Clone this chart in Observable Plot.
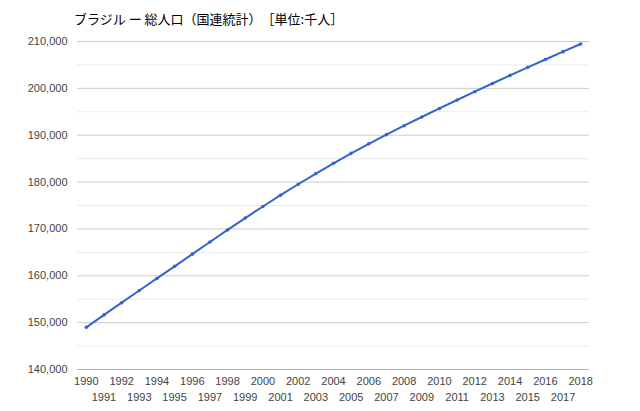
<!DOCTYPE html>
<html><head><meta charset="utf-8">
<script src="https://cdn.jsdelivr.net/npm/d3@7"></script>
<script src="https://cdn.jsdelivr.net/npm/@observablehq/plot@0.6"></script>
<style>
body{margin:0;background:#fff;font-family:"Liberation Sans",Arial,sans-serif;}
#title{height:30px;position:relative;}
#title span{position:absolute;left:74px;top:9px;font-family:"Noto Sans CJK JP","Liberation Sans",sans-serif;font-size:13px;color:#000;white-space:pre;}
</style></head>
<body>
<div id="title"><span>ブラジル ー 総人口（国連統計）　［単位:千人］</span></div>
<div id="chart"></div>
<script>
const years = [1990,1991,1992,1993,1994,1995,1996,1997,1998,1999,2000,2001,2002,2003,2004,2005,2006,2007,2008,2009,2010,2011,2012,2013,2014,2015,2016,2017,2018];
const population = [149003,151648,154259,156849,159433,162020,164614,167209,169785,172319,174790,177197,179537,181809,184006,186127,188167,190130,192030,193887,195714,197515,199287,201036,202764,204472,206163,207834,209469];
const majorTicks = [140000,150000,160000,170000,180000,190000,200000,210000];
const minorTicks = [145000,155000,165000,175000,185000,195000,205000];
const evenYears = years.filter(y => y % 2 === 0);
const oddYears = years.filter(y => y % 2 === 1);
const data = years.map((y, i) => ({year: y, value: population[i]}));

const chart = Plot.plot({
  width: 640,
  height: 381,
  marginLeft: 77,
  marginRight: 51,
  marginTop: 11,
  marginBottom: 42,
  style: {fontFamily: "Liberation Sans, Arial, sans-serif", fontSize: "11px", color: "#444", background: "#fff"},
  x: {domain: [1989.5, 2018.5]},
  y: {domain: [140000, 210000]},
  marks: [
    Plot.ruleY(minorTicks, {stroke: "#ebebeb", strokeWidth: 1}),
    Plot.ruleY(majorTicks.slice(1), {stroke: "#cccccc", strokeWidth: 1}),
    Plot.ruleY([140000], {stroke: "#b5b5b5", strokeWidth: 1}),
    Plot.axisY(majorTicks, {tickSize: 0, tickPadding: 10, tickFormat: d3.format(","), label: null, fill: "#444"}),
    Plot.axisX(evenYears, {tickSize: 0, tickPadding: 8, tickFormat: d => String(d), label: null, fill: "#444"}),
    Plot.axisX(oddYears, {tickSize: 0, tickPadding: 24, tickFormat: d => String(d), label: null, fill: "#444"}),
    Plot.line(data, {x: "year", y: "value", stroke: "#3366cc", strokeWidth: 2}),
    Plot.dot(data, {x: "year", y: "value", r: 1.8, fill: "#3366cc", stroke: null})
  ]
});
document.getElementById("chart").appendChild(chart);
</script>
</body></html>
